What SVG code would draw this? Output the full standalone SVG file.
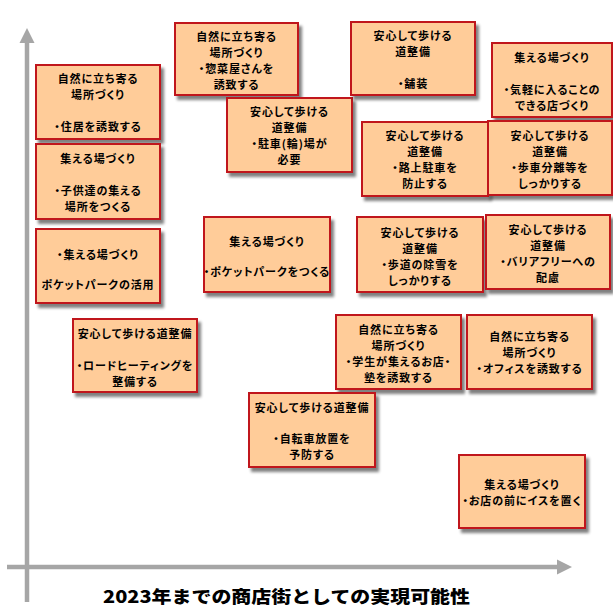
<svg xmlns="http://www.w3.org/2000/svg" width="613" height="608" viewBox="0 0 613 608">
<defs>
<filter id="sh" x="-10%" y="-10%" width="130%" height="140%">
<feGaussianBlur in="SourceAlpha" stdDeviation="1.8"/>
<feOffset dx="3" dy="3.5" result="b"/>
<feComponentTransfer><feFuncA type="linear" slope="0.5"/></feComponentTransfer>
<feMerge><feMergeNode/><feMergeNode in="SourceGraphic"/></feMerge>
</filter>
</defs>
<style>
.box{fill:#FFCC99;stroke:#C0141C;stroke-width:2;filter:url(#sh)}
.t{font-family:"Noto Sans CJK JP","Noto Sans CJK SC",sans-serif;font-weight:bold;font-size:11px;letter-spacing:0.9px;fill:#000;text-anchor:middle;font-feature-settings:"palt"}
.ax{stroke:#A6A6A6;stroke-width:4.5;fill:none}
.ah{fill:#A6A6A6}
.title{font-family:"Noto Sans CJK JP","Noto Sans CJK SC",sans-serif;font-weight:900;font-size:17.5px;fill:#000;text-anchor:middle}
</style>
<rect width="613" height="608" fill="#fff"/>
<g id="axes">
<line class="ax" x1="27" y1="40" x2="27" y2="602"/>
<polygon class="ah" points="27,28 19.5,43 34.5,43"/>
<line class="ax" x1="7" y1="567" x2="560" y2="567"/>
<polygon class="ah" points="572,567 557,559.5 557,574.5"/>
</g>
<g id="nA"><rect class="box" x="36" y="65" width="124" height="74"/>
<text class="t" x="98" y="82.5">自然に立ち寄る</text><text class="t" x="98" y="98.5">場所づくり</text><text class="t" x="98" y="130.5">・住居を誘致する</text></g>
<g id="nB"><rect class="box" x="36" y="144" width="124" height="75"/>
<text class="t" x="98" y="162.5">集える場づくり</text><text class="t" x="98" y="194.5">・子供達の集える</text><text class="t" x="98" y="210.5">場所をつくる</text></g>
<g id="nC"><rect class="box" x="36" y="229" width="124" height="74"/>
<text class="t" x="98" y="258.5">・集える場づくり</text><text class="t" x="98" y="288.5">ポケットパークの活用</text></g>
<g id="nD"><rect class="box" x="73" y="319" width="124" height="73"/>
<text class="t" x="135" y="337.5">安心して歩ける道整備</text><text class="t" x="135" y="369.5">・ロードヒーティングを</text><text class="t" x="135" y="385.5">整備する</text></g>
<g id="nE"><rect class="box" x="175" y="23" width="123" height="72"/>
<text class="t" x="236.5" y="40.5">自然に立ち寄る</text><text class="t" x="236.5" y="56.5">場所づくり</text><text class="t" x="236.5" y="72.5">・惣菜屋さんを</text><text class="t" x="236.5" y="88.5">誘致する</text></g>
<g id="nF"><rect class="box" x="227" y="98" width="125" height="74"/>
<text class="t" x="289.5" y="115.5">安心して歩ける</text><text class="t" x="289.5" y="131.5">道整備</text><text class="t" x="289.5" y="147.5">・駐車(輪)場が</text><text class="t" x="289.5" y="163.5">必要</text></g>
<g id="nG"><rect class="box" x="351" y="22" width="124" height="73"/>
<text class="t" x="413" y="39.5">安心して歩ける</text><text class="t" x="413" y="55.5">道整備</text><text class="t" x="413" y="87.5">・舗装</text></g>
<g id="nH"><rect class="box" x="492" y="43" width="120" height="74"/>
<text class="t" x="552" y="61.5">集える場づくり</text><text class="t" x="552" y="93.5">・気軽に入ることの</text><text class="t" x="552" y="109.5">できる店づくり</text></g>
<g id="nI"><rect class="box" x="362" y="122" width="126" height="74"/>
<text class="t" x="425" y="139.5">安心して歩ける</text><text class="t" x="425" y="155.5">道整備</text><text class="t" x="425" y="171.5">・路上駐車を</text><text class="t" x="425" y="187.5">防止する</text></g>
<g id="nJ"><rect class="box" x="488" y="121" width="124" height="74"/>
<text class="t" x="550" y="139.5">安心して歩ける</text><text class="t" x="550" y="155.5">道整備</text><text class="t" x="550" y="171.5">・歩車分離等を</text><text class="t" x="550" y="187.5">しっかりする</text></g>
<g id="nK"><rect class="box" x="204" y="217" width="126" height="75"/>
<text class="t" x="267" y="245.5">集える場づくり</text><text class="t" x="267" y="275.5">・ポケットパークをつくる</text></g>
<g id="nL"><rect class="box" x="357" y="217" width="126" height="75"/>
<text class="t" x="420" y="236.5">安心して歩ける</text><text class="t" x="420" y="252.5">道整備</text><text class="t" x="420" y="268.5">・歩道の除雪を</text><text class="t" x="420" y="284.5">しっかりする</text></g>
<g id="nM"><rect class="box" x="486" y="215" width="124" height="74"/>
<text class="t" x="548" y="233.5">安心して歩ける</text><text class="t" x="548" y="249.5">道整備</text><text class="t" x="548" y="265.5">・バリアフリーへの</text><text class="t" x="548" y="281.5">配慮</text></g>
<g id="nN"><rect class="box" x="336" y="315" width="125" height="74"/>
<text class="t" x="398.5" y="333.5">自然に立ち寄る</text><text class="t" x="398.5" y="349.5">場所づくり</text><text class="t" x="398.5" y="365.5">・学生が集えるお店・</text><text class="t" x="398.5" y="381.5">塾を誘致する</text></g>
<g id="nO"><rect class="box" x="467" y="315" width="125" height="74"/>
<text class="t" x="529.5" y="340.5">自然に立ち寄る</text><text class="t" x="529.5" y="356.5">場所づくり</text><text class="t" x="529.5" y="372.5">・オフィスを誘致する</text></g>
<g id="nP"><rect class="box" x="249" y="393" width="126" height="74"/>
<text class="t" x="312" y="411.5">安心して歩ける道整備</text><text class="t" x="312" y="442.5">・自転車放置を</text><text class="t" x="312" y="458.5">予防する</text></g>
<g id="nQ"><rect class="box" x="459" y="455" width="126" height="73"/>
<text class="t" x="522" y="488.5">集える場づくり</text><text class="t" x="522" y="504.5">・お店の前にイスを置く</text></g>
<text class="title" x="286.5" y="602.5" textLength="367" lengthAdjust="spacingAndGlyphs">2023年までの商店街としての実現可能性</text>
</svg>
